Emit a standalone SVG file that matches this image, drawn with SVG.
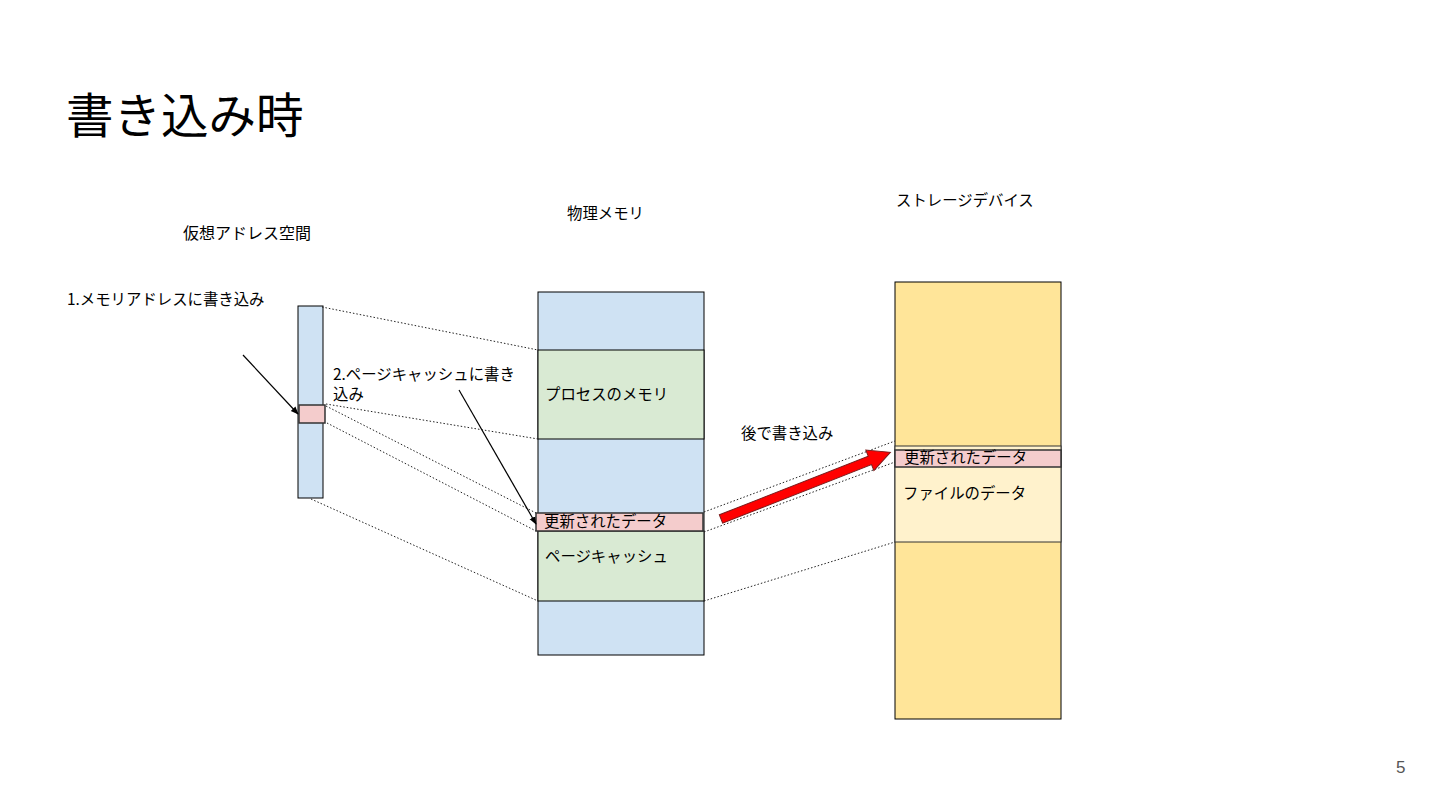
<svg xmlns="http://www.w3.org/2000/svg" width="1440" height="810" viewBox="0 0 1440 810">
<style>
text{font-family:"Noto Sans CJK JP","Noto Sans",sans-serif;fill:#000;}
.lbl{font-size:15.4px;}
.blue{fill:#cfe2f3;stroke:#000;stroke-width:1;}
.green{fill:#d9ead3;stroke:#000;stroke-width:1;}
.pink{fill:#f4cccc;stroke:#333;stroke-width:1.5;}
.yel{fill:#ffe599;stroke:#000;stroke-width:1;}
.lyel{fill:#fff2cc;stroke:#333;stroke-width:1;}
.dot{stroke:#222;stroke-width:1;stroke-dasharray:1.5 2;fill:none;}
.arr{stroke:#000;stroke-width:1.2;fill:none;marker-end:url(#ah);}
</style>
<defs>
<marker id="ah" viewBox="0 0 10 10" refX="9" refY="5" markerWidth="8" markerHeight="8" orient="auto" markerUnits="userSpaceOnUse">
<path d="M0,1 L10,5 L0,9 z" fill="#000"/>
</marker>
</defs>
<rect width="1440" height="810" fill="#fff"/>
<text x="66" y="133" style="font-size:47.5px">書き込み時</text>

<g id="virtual">
<rect class="blue" x="298" y="306" width="25" height="192"/>
<rect class="pink" x="299" y="405" width="26" height="18"/>
<text class="lbl" x="183" y="239" style="font-size:16px">仮想アドレス空間</text>
</g>

<g id="physical">
<rect class="blue" x="538" y="292" width="166" height="363"/>
<rect class="green" x="538" y="350" width="166" height="89"/>
<rect class="green" x="538" y="531" width="166" height="70"/>
<rect class="pink" x="536" y="513" width="167" height="18"/>
<text class="lbl" x="567" y="219">物理メモリ</text>
<text class="lbl" x="545" y="400">プロセスのメモリ</text>
<text class="lbl" x="544" y="527">更新されたデータ</text>
<text class="lbl" x="545" y="562">ページキャッシュ</text>
</g>

<g id="storage">
<rect class="yel" x="895" y="282" width="166" height="437"/>
<rect class="lyel" x="895" y="446" width="166" height="96"/>
<rect class="pink" x="895" y="450" width="166" height="17"/>
<text class="lbl" x="896" y="206">ストレージデバイス</text>
<text class="lbl" x="904" y="463">更新されたデータ</text>
<text class="lbl" x="903" y="499">ファイルのデータ</text>
</g>

<g id="labels">
<text class="lbl" x="67" y="305">1.メモリアドレスに書き込み</text>
<text class="lbl" x="333" y="380">2.ページキャッシュに書き</text>
<text class="lbl" x="333" y="400">込み</text>
<text class="lbl" x="741" y="439">後で書き込み</text>
<text x="1396" y="773" style="font-family:'Liberation Sans',sans-serif;font-size:17px;fill:#555">5</text>
</g>

<g id="connectors">
<line class="dot" x1="322" y1="307" x2="538" y2="350"/>
<line class="dot" x1="326" y1="404" x2="538" y2="439"/>
<line class="dot" x1="326" y1="406" x2="536" y2="513"/>
<line class="dot" x1="327" y1="423" x2="536" y2="531"/>
<line class="dot" x1="311" y1="499" x2="538" y2="601"/>
<line class="dot" x1="704" y1="512" x2="895" y2="441"/>
<line class="dot" x1="704" y1="532" x2="895" y2="462"/>
<line class="dot" x1="704" y1="601" x2="895" y2="542"/>
<line class="arr" x1="243" y1="355" x2="298" y2="414"/>
<line class="arr" x1="459" y1="390" x2="536" y2="524"/>
<g transform="translate(721,519) rotate(-21.5)">
<polygon points="0,-4.5 160,-4.5 160,-11 182,0 160,11 160,4.5 0,4.5" fill="#ff0000" stroke="#7a1a1a" stroke-width="1"/>
</g>
</g>
</svg>
